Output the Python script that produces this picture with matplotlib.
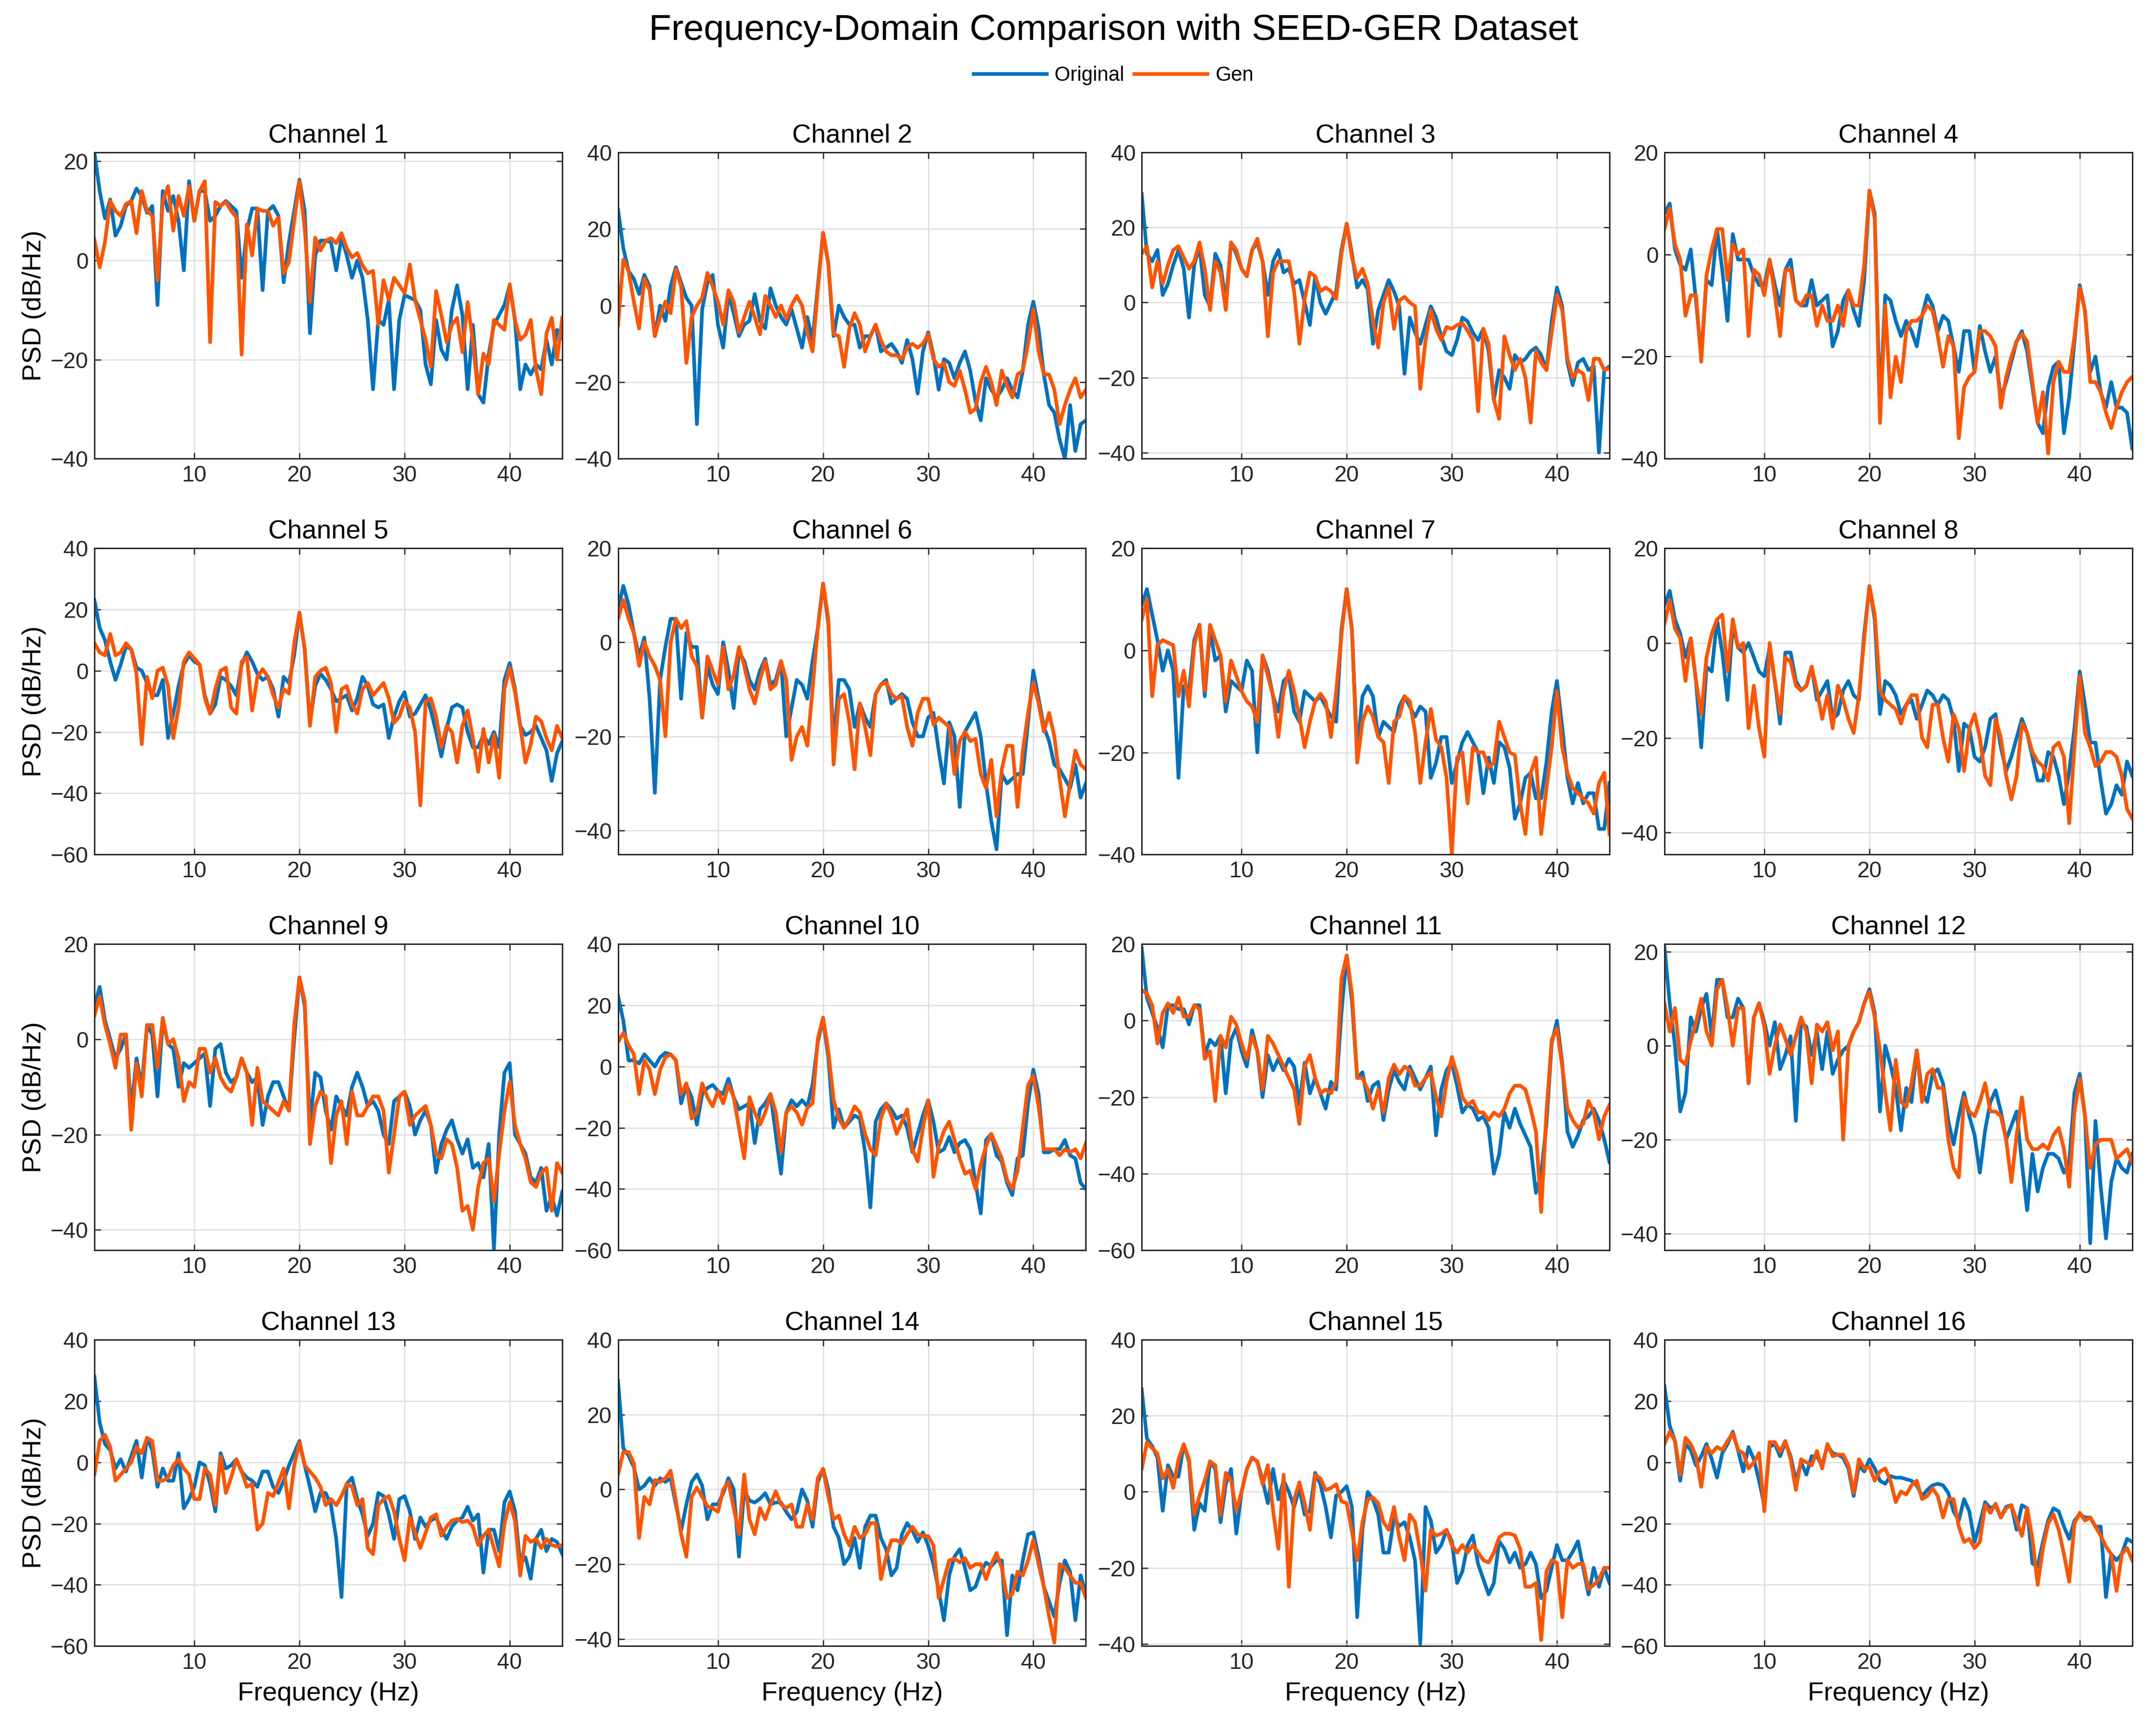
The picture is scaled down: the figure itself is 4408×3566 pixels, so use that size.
import numpy as np
import matplotlib
matplotlib.use("Agg")
import matplotlib.pyplot as plt
from matplotlib.ticker import MultipleLocator

plt.rcParams['font.family'] = ['Liberation Sans', 'DejaVu Sans']

# frequency grid (Hz), 0.5 Hz spacing
freq = np.arange(0.5, 45.01, 0.5)

orig_ch1 = [21.8, 14, 8.5, 12.3, 5, 7, 11, 12, 14.5, 13,
            9.6, 11, -9, 14, 10, 13, 8, -2, 16, 8,
            14, 14, 8, 9, 11, 12, 11, 10, -3.5, 6,
            10.5, 10.5, -6, 10, 11, 9, -4.4, 3.7, 10, 16.3,
            10, -14.7, 1, 4, 4, 3.7, -2, 4.6, 1, -3.5,
            0, -3.5, -12, -26, -12, -13, -8, -26, -12, -7,
            -7.5, -8, -10, -21, -25, -12, -18, -20, -10, -5,
            -11, -26, -13, -27, -28.7, -19, -13, -11, -9, -5,
            -12, -26, -21, -23, -21, -22, -16, -21, -14, -15.6]
gen_ch1 = [4.2, -1.4, 3.7, 12, 10, 9, 11.4, 12, 5.5, 14,
           10, 9, -4, 12, 15, 6, 13, 9, 15, 8,
           14, 16, -16.5, 11.8, 11, 11.8, 10, 8.7, -19, 7.3,
           1, 10.5, 10, 10, 7, 8.7, -2.6, -0.3, 8, 16,
           6.4, -8.4, 4.6, 2, 4, 4.5, 3.5, 5.5, 2.5, 0.6,
           1.5, -1, -2.6, -2.1, -12.9, -4, -8, -3.5, -5, -6.6,
           -0.8, -8, -12, -16, -21.5, -6.2, -11, -16.5, -13, -11.6,
           -18.5, -8.4, -16.5, -27, -18.8, -21, -12, -13, -14, -4.8,
           -12, -16, -15, -12, -22, -27, -14.7, -11.6, -20, -11.6]

orig_ch2 = [25, 15, 9, 7, 3, 8, 5, -8, 0, -4,
            5, 10, 6, 2, 0, -31, -1, 6, 8, -5,
            -11, 3, -2, -8, -5, -4, 3, -4, -6, 4.5,
            0, -3, -5, -1, -6, -11, -3, -9, 5, 19,
            11, -8, 0, -3, -5, -5, -11, -8, -8, -5,
            -12, -11, -10, -12, -15, -9, -14, -23, -12, -7,
            -13, -22, -14, -15, -19, -15, -12, -17, -25, -30,
            -19, -22, -24, -22, -19, -22, -24, -17, -5, 1,
            -6, -18, -26, -28, -35, -40, -26, -38, -31, -30]
gen_ch2 = [-5, 12, 9, 1, -6, 7, 4, -8, -3, 1,
           -2, 9.5, 5, -15, -3, 0, 2, 8.5, 5, 1,
           -5, 4, 1, -7, -3, 1, -3, -7.5, 2.5, 0,
           -3, 0, -3.5, 0, 2.5, 0, -7, -12, 4, 19,
           11, -7.5, -8, -16, -6, -2, -5, -12, -8, -5,
           -9, -12, -13, -13, -14, -11, -10, -11, -10, -7.5,
           -14, -16, -15, -20, -21, -17, -22, -28, -27, -20,
           -16, -20, -26, -17, -21, -24, -18, -17, -10, -1,
           -12, -18, -18, -22, -31, -26, -22, -19, -24, -22]

orig_ch3 = [29, 13, 11, 14, 2, 5, 10, 14, 9, -4,
            10, 15, 2, -1, 13, 10, 0, 16, 13, 9,
            7, 14, 16, 11, 2, 11, 14, 8, 9, 5,
            6, 0, -6, 7, 0, -3, 0, 3, 14, 21,
            13, 4, 6, 3.5, -11, -2, 2, 6, 3, -1,
            -19, -4, -8, -11, -6, -1, -4, -9, -13, -14,
            -10, -4, -5, -8, -10, -7, -13, -26, -18, -20,
            -23, -14, -16, -15, -13, -12, -14, -18, -5, 4,
            -1, -16, -22, -16, -15, -18, -17, -40, -18, -17]
gen_ch3 = [13, 15, 4, 11, 5, 10, 14, 15, 12, 9,
           11, 16, 9, -2, 11, 8, -2, 16, 14, 9,
           7, 14, 17, 11, -9, 8, 11, 11, 11, 3,
           -11, 1, 8, 7, 3, 4, 3, 1, 13, 21,
           12, 6.5, 9, 5, -5, -12, 0, 4, -7, 0.5,
           1.5, 0, -1, -23, -10, -2, -7, -10, -6.5, -7,
           -6, -5.5, -7.5, -10, -29, -7, -11, -26, -31, -9,
           -14, -18, -15, -20, -32, -13, -16, -18, -8, 2,
           -2, -15, -20, -18, -19, -26, -15, -15, -18, -17.5]

orig_ch4 = [8, 10, 1, -2, -3, 1, -9, -20, -5, -6,
            5, -3, -13, 4, -1, -1, -1, -4, -6, -6,
            -1, -6, -10, -3, -1, -9, -10, -10, -5, -10,
            -9, -8, -18, -15, -9, -7, -11, -14, -5, 12.5,
            8, -30, -8, -9, -13, -16, -13, -15, -18, -12,
            -8, -10, -15, -12, -13, -18, -23, -15, -15, -23,
            -14, -19, -23, -20, -28, -25, -21, -17, -15, -19,
            -26, -33, -35, -26, -22, -21, -35, -28, -17, -6,
            -11, -23, -20, -27, -30, -25, -30, -30, -31, -38]
gen_ch4 = [5, 9, 2, -1, -12, -8, -8, -21, -4, 1,
           5, 5, -5, 2, 0, 1, -16, -3, -4, -8,
           -1, -8, -16, -3, -3, -9, -10, -8, -8, -14,
           -10, -13, -13, -10, -14, -7, -10, -10, -2, 12.5,
           7, -33, -10, -28, -20, -25, -15, -13, -13, -12,
           -10, -11, -16, -22, -16, -18, -36, -26, -24, -23,
           -15, -15, -16, -18, -30, -24, -20, -17, -15.5, -17,
           -25, -33, -27, -39, -25, -21, -23, -23, -16, -6.5,
           -11, -25, -25, -27, -31, -34, -30, -27, -25, -24]

orig_ch5 = [23, 14, 10, 3, -3, 2, 8, 7, 1, 0,
            -4, -8, -8, -3, -22, -14, -5, 2, 5, 3,
            2, -8, -14, -11, -2, -3, -5, -8, 2, 6,
            3, -1, -3, -2, -6, -15, -2, -4, 5, 19,
            7, -17, -5, -1, -3, -6, -10, -9, -8, -13,
            -9, -2, -5, -11, -12, -11, -22, -15, -10, -7,
            -15, -14, -11, -8, -13, -20, -28, -19, -12, -11,
            -12, -20, -25, -25, -21, -24, -20, -25, -3, 2.5,
            -6, -18, -21, -20, -18, -22, -26, -36, -27, -23]
gen_ch5 = [9, 6, 5, 12, 5, 6, 9, 7, -1, -24,
           -2, -9, 0, 1, -5, -22, -12, 3, 6, 4,
           2, -9, -14, -6, 0, 1, -12, -14, 3, 4.5,
           -13, -2, 0.5, -2, -8, -12, -6, -7.5, 9, 19,
           7, -18, -2, 0, 1, -4, -20, -6, -5, -11,
           -14, -6, -4, -8, -6, -4, -9, -17, -15, -10,
           -12, -20, -44, -10, -9, -15, -25, -18, -20, -30,
           -18, -13, -22, -33, -19, -30, -21, -35, -6, 1,
           -7, -18, -30, -24, -15, -16.5, -22, -26, -18, -22]

orig_ch6 = [7, 12, 8, 2, -3, 1, -12, -32, -8, -1,
            5, 5, -12, 2, -1, -1, -16, -5, -9, -11,
            0, -6, -14, -2, -4, -8, -10, -6, -3.5, -9,
            -8, -4, -20, -14, -8, -9, -12, -4, 3, 12.5,
            4, -22, -8, -8, -10, -18, -13, -16, -18, -11,
            -9, -8, -13, -12, -11, -12, -17, -20, -20, -16,
            -15, -23, -30, -17, -20, -35, -19, -17, -15, -20,
            -30, -38, -44, -28, -30, -29, -28, -28, -17, -6,
            -12, -18, -21, -26, -27, -29, -31, -26, -33, -30]
gen_ch6 = [5, 9, 5, 2, -5, 0, -3, -5, -8, -20,
           0, 5, 3, 4.5, -3, -5, -16, -3, -6, -9,
           -1, -10, -7, -1, -5, -10, -13, -8, -4, -10,
           -9, -4, -8, -25, -20, -18, -22, -10, 3, 12.5,
           5, -26, -12, -11, -17, -27, -13, -18, -24, -11,
           -9, -8.5, -11, -12, -11.5, -18, -22, -15, -12, -12,
           -17.5, -16, -17, -18, -28, -21, -19, -21, -20.5, -28,
           -31, -25, -37, -27, -22, -22, -35, -23, -15, -8.5,
           -13, -19, -15, -20, -29, -37, -30, -23, -26, -27]

orig_ch7 = [9, 12, 7, 2, -4, 0, -4, -25, -7, -8,
            2, 5, -9, 4, -2, -1, -12, -6, -7, -8,
            -2, -4, -20, -1, -4, -9, -12, -6, -5, -12,
            -14, -8, -9, -10, -9, -11, -13, -14, 4, 12,
            4, -20, -9, -7, -9, -17, -14, -15, -16, -11,
            -9, -11, -13, -11, -12, -25, -22, -17, -17, -26,
            -22, -18, -16, -18, -20, -28, -21, -26, -18, -19,
            -23, -33, -30, -25, -24, -29, -29, -22, -12, -6,
            -15, -25, -30, -26, -30, -28, -28, -35, -35, -26]
gen_ch7 = [6, 10, -9, 1, 2, 1.5, 1, -9, -4, -11,
           1, 5, -8, 5, 2, -1, -10, -2, -5, -8,
           -10, -11, -14, -1, -5, -9, -17, -8, -4, -8,
           -13, -19, -14, -10, -8.5, -10, -17, -8, 3, 12,
           4, -22, -14, -11, -13, -17, -18, -26, -14, -13,
           -9, -10, -16, -26, -18, -11.5, -17.5, -19, -25, -40,
           -21, -20, -30, -19, -20, -20, -23, -22, -14, -17,
           -20, -20.5, -30, -36, -24, -21, -36, -27, -19, -8,
           -19, -24, -27, -28, -29, -30, -32, -26, -24, -36]

orig_ch8 = [8, 11, 5, 2, -3, 1, -8, -22, -5, -6,
            5, -2, -12, 4, -1, -2, 0, -3, -6, -7,
            -1, -8, -17, -2, -2, -8, -10, -9, -5, -12,
            -10, -8, -16, -15, -10, -8, -11, -12, 2, 12,
            5, -15, -8, -9, -11, -15, -13, -12, -16, -13,
            -10, -11, -13, -11, -12, -16, -27, -17, -18, -24,
            -25, -22, -16, -15, -22, -27, -24, -20, -16, -19,
            -24, -29, -29, -23, -24, -28, -34, -27, -18, -6,
            -13, -21, -21, -29, -36, -34, -30, -32, -25, -28]
gen_ch8 = [4, 9, 3, 1, -8, 1, -8, -15, -3, 2,
           5, 6, -6, 5, -1, 0, -18, -9, -18, -24,
           0, -8, -15, -3, -4, -9, -10, -9, -5, -10,
           -16, -11, -18, -9, -12, -16, -19, -11, 1, 12,
           6, -10, -12, -13, -14, -17, -13, -11, -11, -20,
           -22, -13, -13, -20, -25, -15, -18, -27, -18, -15,
           -20, -28, -30, -16, -20, -28, -33, -28, -17, -19,
           -23, -25, -26, -29, -22, -21, -24, -38, -22, -7,
           -19, -22, -26, -25, -23, -23, -24, -28, -35, -37]

orig_ch9 = [7, 11, 4, 0, -4, -2, 1, -15, -4, -10,
            3, 1, -12, 4, -1, -2, -10, -5, -6, -5,
            -4, -3, -14, -2, -1, -7, -9, -8, -4, -7,
            -9, -8, -18, -12, -9, -9, -12, -15, 0, 13,
            7, -18, -7, -8, -15, -19, -12, -14, -16, -10,
            -7, -10, -14, -13, -15, -20, -22, -13, -12, -11,
            -14, -20, -17, -15, -18, -28, -22, -19, -17, -21,
            -24, -21, -27, -26, -29, -22, -44, -20, -7, -5,
            -20, -22, -24, -29, -30, -27, -36, -33, -37, -32]
gen_ch9 = [5, 9, 3, -1, -6, 1, 1, -19, -5, -12,
           3, 3, -6, 4.5, -1, 0, -4, -13, -9, -10,
           -2, -2, -7, -4, -8, -10, -11, -8, -4, -7,
           -18, -6, -13, -14, -15, -16, -13, -15, 3, 13,
           8, -22, -14, -11, -12, -26, -16, -13, -22, -11,
           -16, -16, -14, -12, -12, -15, -28, -20, -12, -11,
           -18, -16, -15, -14, -18, -24, -25, -21, -22, -27,
           -36, -35, -40, -31, -26, -25, -34, -24, -15, -9,
           -18, -22, -25, -30, -31, -28, -27, -36, -26, -28]

orig_ch10 = [23, 15, 2, 2, 1, 4, 2, 0, 3, 4.5,
             4, 2, -12, -6, -10, -19, -9, -7, -6, -8,
             -9, -4, -10, -14, -13, -12, -25, -14, -12, -9,
             -22, -35, -15, -11, -13, -11, -13, -6, 8, 15.5,
             3, -20, -14, -20, -18, -16, -17, -28, -46, -18,
             -14, -12, -14, -17, -16, -20, -28, -22, -16, -11,
             -18, -28, -27, -23, -28, -25, -24, -27, -38, -48,
             -24, -22, -29, -31, -38, -42, -30, -29, -12, -1,
             -9, -28, -28, -27, -27, -24, -29, -30, -38, -40]
gen_ch10 = [8, 11, 7, 4, -9, 2, -1, -9, -1, 3,
            4, 2, -9, -5.5, -17, -15, -5.5, -10, -13, -8,
            -12, -6, -10, -20, -30, -10, -15, -19, -15, -9,
            -15, -28, -15, -13, -15, -19, -13.5, -12, 9, 16,
            5, -11, -17, -20, -17, -13, -15, -22, -27, -29,
            -17, -12, -16, -22, -18, -14, -27, -31, -20, -11,
            -36, -26, -21, -18, -24, -30, -35, -34, -40, -32,
            -26, -22, -26, -30, -37, -40, -34, -20, -6, -3,
            -13, -27, -27, -27, -29, -27, -28, -27, -30, -25]

orig_ch11 = [19, 6, 2, -2, -7, 4, 4, 3, 3, -1,
             4, 4, -9, -5, -6.5, -4, -19, -5, -2, -8,
             -12, -2.5, -8, -20, -9, -13, -10, -13, -10, -12,
             -22, -11, -19, -15, -19, -23, -16, -18, 2, 17,
             5, -15, -13.5, -21, -17, -16, -26, -18, -13, -16,
             -18, -12, -15, -18, -15, -12, -30, -18, -13, -11,
             -17, -24, -22, -23, -26, -25, -28, -40, -35, -24,
             -28, -23, -27, -30, -33, -45, -40, -27, -6, 0,
             -11, -29, -33, -30, -26, -25, -23, -26, -31, -37]
gen_ch11 = [8, 7, 4, -6, 2, 4.5, 2, 6, 1, 1,
            4, 3, -10, -8, -21, -4, -7, 1, -1, -6,
            -10, -4, -8, -18, -4, -6, -9, -12, -15, -18,
            -27, -12, -9, -15, -19, -18, -19, -16, 11, 17,
            7, -15, -15, -18, -23, -18, -24, -15, -11.5, -14,
            -12, -13, -17, -17, -15, -13.5, -20, -25, -16, -9.5,
            -14, -20, -22, -21, -24, -24, -26, -24, -25, -23,
            -19, -17, -17, -18, -23, -29, -50, -24, -5, -2,
            -12, -23, -26, -28, -27, -21, -24, -31, -25, -22]

orig_ch12 = [21, 9, 0, -14, -10, 6, 3, 8, 11, 2,
             14, 14, 6, 6, 10, 8, -8, 6, 9, 5,
             0, 5, -5, -2, 2, -16, 5, 4, -2, 3,
             -5, 3, -6, -3, -1, 0, 3, 5, 9, 12,
             7, -14, 0, -4, -9, -18, -9, -12, -1, -10,
             -12, -6, -5, -8, -16, -21, -15, -10, -15, -19,
             -27, -18, -12, -9.5, -14, -20, -17, -14, -25, -35,
             -23, -31, -26, -23, -23, -24, -27, -25, -10, -6,
             -15, -42, -16, -30, -41, -29, -24, -26, -27, -23]
gen_ch12 = [9, 3, 8, -3, -4, 1, 5, 10, 3, 0,
            12, 14, 8, 0, 8, 8, -8, 6, 9, 4,
            -6, 0, 4.5, 1.5, -2, 2, 6, 3, -8, 4.5,
            3, 5, -1, 3, -20, 0, 3, 5, 9, 11.5,
            6, -1, -10, -18, -3, -12, -13, -8, -1, -12,
            -6, -5, -9, -9, -20, -26, -28, -11, -14, -15,
            -12, -8, -14, -14, -15, -20, -29, -19, -11, -20,
            -22, -22, -21, -22, -19, -17.5, -22, -30, -14, -7,
            -15, -26, -21, -20, -20, -20, -24, -23, -22, -25]

orig_ch13 = [28, 13, 6, 4, -2, 1, -3, 2, 7, -5,
             8, 4, -8, -2, -6, -6, 3, -15, -12, -8,
             0, -1, -7, -16, 3, -2, -1, 1, -3, -5,
             -6, -8, -3, -3, -8, -10, -6, -1, 3, 7,
             -1, -8, -16, -10, -10, -14, -25, -44, -7, -5,
             -12, -17, -24, -20, -10, -11, -17, -25, -12, -11,
             -16, -25, -18, -21, -19, -18, -22, -25, -21, -19,
             -18, -14.5, -19, -17, -36, -22, -22, -29, -13, -9.5,
             -16, -33, -31, -38, -25, -22, -29, -25, -26, -30]
gen_ch13 = [-4, 7, 9, 5, -6, -4, -2, 0, 5, 3,
            8, 7, -6, -6, -5, -1, 1, -2, -4, -12,
            -12, -2, -4, -14, 2, -10, -5, 1, -3, -8,
            -7, -22, -20, -10, -11, -6.5, -2, -15, -1, 6.5,
            -1, -3, -5, -8, -14, -12, -14, -11, -7, -8,
            -14, -12, -28, -30, -14, -12, -11, -16, -25, -32,
            -18, -23, -28, -23, -18, -17, -24, -21, -19, -18.5,
            -19.5, -19, -21, -27, -24, -22, -28, -34, -20, -13,
            -19, -37, -24, -26, -25, -28, -25, -27, -27.5, -27]

orig_ch14 = [29, 11, 9, 6, 0, 1, 3, 1, 3, 2,
             3, -4, -11, -4, 2, 4, 1, -8, -4, -4,
             -1, 3, 0, -18, 0, -3, -3.5, -2.5, -1, -4,
             -3.5, -3.5, -6, -8, -6, 0, -3, -10, 2, 5.5,
             0, -10, -13, -20, -18, -13, -21, -10, -7, -7,
             -13, -16, -23, -21, -12, -9, -11, -14, -11.5, -15,
             -20, -27, -35, -23, -18, -16, -21, -27, -26, -22,
             -19.6, -20.5, -19, -19, -39, -23, -27, -19, -12, -11.5,
             -18, -26, -30, -34, -25, -19, -22, -35, -23, -28]
gen_ch14 = [4, 10, 10, 7, -13, -2, -4, 2.5, 2, 3,
            5, -3, -12, -18, -2, 0.5, -2, -4.5, -5, -6,
            0, 2, -5, -12, 4, -8, -12, -5, -8, -4,
            -0.5, -4, -5, -4, -10, -10, -4, -8, 3, 5.5,
            -2, -8, -7, -12, -15, -10, -13, -12, -9, -9,
            -24, -18, -13.6, -13.6, -14.5, -12, -10, -12, -12.5, -12.5,
            -15, -29, -24, -19, -18.5, -19.5, -18.4, -21, -20, -20,
            -24, -20, -17, -21, -29, -28, -22, -23, -19, -13.5,
            -20, -26, -34, -41, -20, -21, -23, -25, -25, -29]

orig_ch15 = [27, 14, 12, 9, -5, 7, 4, 4, 12.5, 8,
             -10, -3, -5, 8, 6, -8, 2, 6, -11, 0,
             6, 9, 8, 3, -3, 6, -2, 3, 0, -4,
             1, -6, -5, 5, 2, -4, -12, -1, 0, 1.5,
             -4, -33, -10, 0, -2, -6, -16, -16, -7, -9,
             -8, -12, -18, -40, -4, -7.5, -16, -14, -10, -13,
             -24, -21, -14, -11.5, -19, -23, -27, -24, -13, -15,
             -18.6, -16, -20, -19, -16, -19, -28, -26, -20, -14,
             -18, -18, -15.8, -13, -20, -27, -20, -25, -20, -24]
gen_ch15 = [6, 13, 11.5, 10, 3.5, 6, 1, 8.5, 12.5, 8.5,
            -6, -1, 3, 8, 7, -6, 5, 3, -5, 0,
            6, 9, 8, 2, 7, -5, -15, 4.5, -25, -2,
            2.5, -3, -10, 4.5, 3.5, 0.5, 1, 2, -2.5, -3,
            -10.5, -18, -8, -2, -1.5, -3, -8, -10, -4, -12,
            -18, -6, -8, -16, -26, -10, -11.5, -11, -10, -14,
            -16, -14, -16, -14, -16, -18, -18.6, -16, -12, -11,
            -11, -11.5, -15, -25, -25, -24, -39, -21, -18, -18.7,
            -33, -18, -20, -19, -19, -25.6, -24.5, -23, -20, -20]

orig_ch16 = [25, 12, 7, -6, 6, 4, -1, 2, 6, 1,
             -5, 3, 6, 10, 4, -3, 5, 1, -6, -14,
             5, 6, 2, 6.5, 2, -6, 0, -4, 2, 2,
             -1, 5.5, 3, 2.5, 1.5, -2, -11, -1, -3, 1,
             -2, -6, -7, -4.5, -5, -5, -5.5, -6, -7.5, -11,
             -9, -7.5, -7, -7.5, -10, -16, -19, -12, -16, -26,
             -20, -13, -15, -14, -18, -14.5, -14, -22, -14, -15,
             -33, -34, -26, -19, -15, -16, -21, -25, -19, -17,
             -18, -18, -21, -21, -44, -30, -32, -30, -25, -26]
gen_ch16 = [6, 10, 7, -4, 8, 6, 2, -8, 5, 3,
            5, 4, 7, 9.5, 4, 3, -2, 0, 3, -16,
            6.6, 6.6, 3.5, 7, 1, -9, 1, 0, -1, 3.7,
            -2, 6, 2, 2.5, 2.5, -1, -10, 1, -2, -1.5,
            -6, -3, -2, -6, -13, -9.5, -10.5, -7.5, -6, -12,
            -11, -8.5, -11, -18, -12, -12, -21, -26, -25, -28,
            -26, -14, -16.5, -13.5, -18, -15, -14, -19, -24, -15,
            -25, -40, -28, -20, -17, -22, -30, -39, -20, -16.5,
            -19, -18, -21, -24, -27.5, -30, -42, -30, -28, -32]

original = [orig_ch1, orig_ch2, orig_ch3, orig_ch4, orig_ch5, orig_ch6, orig_ch7, orig_ch8,
            orig_ch9, orig_ch10, orig_ch11, orig_ch12, orig_ch13, orig_ch14, orig_ch15, orig_ch16]
generated = [gen_ch1, gen_ch2, gen_ch3, gen_ch4, gen_ch5, gen_ch6, gen_ch7, gen_ch8,
             gen_ch9, gen_ch10, gen_ch11, gen_ch12, gen_ch13, gen_ch14, gen_ch15, gen_ch16]

# y-axis limits per channel
ylims = [(-40, 21.8), (-40, 40), (-41.6, 40), (-40, 20),
         (-60, 40), (-45.1, 20), (-40, 20), (-44.6, 20),
         (-44.3, 20), (-60, 40), (-60, 20), (-43.5, 21.6),
         (-60, 40), (-41.9, 40), (-40.6, 40), (-60, 40)]

blue = '#0072BD'
orange = '#FF5500'
dark = '#262626'

fig = plt.figure(figsize=(4408 / 300, 3566 / 300), dpi=300)

lefts = [0.044, 0.288, 0.532, 0.7756]
bottoms = [0.7358, 0.5078, 0.2798, 0.0518]
w, h = 0.218, 0.1764

for i in range(16):
    r, c = divmod(i, 4)
    ax = fig.add_axes([lefts[c], bottoms[r], w, h])
    l1, = ax.plot(freq, original[i], color=blue, lw=1.8, label='Original')
    l2, = ax.plot(freq, generated[i], color=orange, lw=1.8, label='Gen')
    ax.set_xlim(0.5, 45)
    ax.set_ylim(*ylims[i])
    ax.xaxis.set_major_locator(MultipleLocator(10))
    ax.yaxis.set_major_locator(MultipleLocator(20))
    ax.grid(True, color='#dedede', lw=0.6)
    ax.set_axisbelow(True)
    for sp in ax.spines.values():
        sp.set_color(dark)
        sp.set_linewidth(0.7)
    ax.tick_params(direction='in', length=3, width=0.6, top=True, right=True,
                   labelsize=11, colors=dark, pad=3)
    ax.set_title(f'Channel {i + 1}', fontsize=13, color='black', pad=5)
    if c == 0:
        ax.set_ylabel('PSD (dB/Hz)', fontsize=13, labelpad=2)
    if r == 3:
        ax.set_xlabel('Frequency (Hz)', fontsize=13, labelpad=4)

# title and legend are centred over the block of axes
fig.text(0.519, 0.9826, 'Frequency-Domain Comparison with SEED-GER Dataset',
         ha='center', va='center', fontsize=18)
fig.legend([l1, l2], ['Original', 'Gen'], loc='center', bbox_to_anchor=(0.519, 0.9565),
           ncol=2, frameon=False, fontsize=10, handlelength=3.6, columnspacing=0.5,
           handletextpad=0.4)

fig.savefig('out.png', dpi=300)
